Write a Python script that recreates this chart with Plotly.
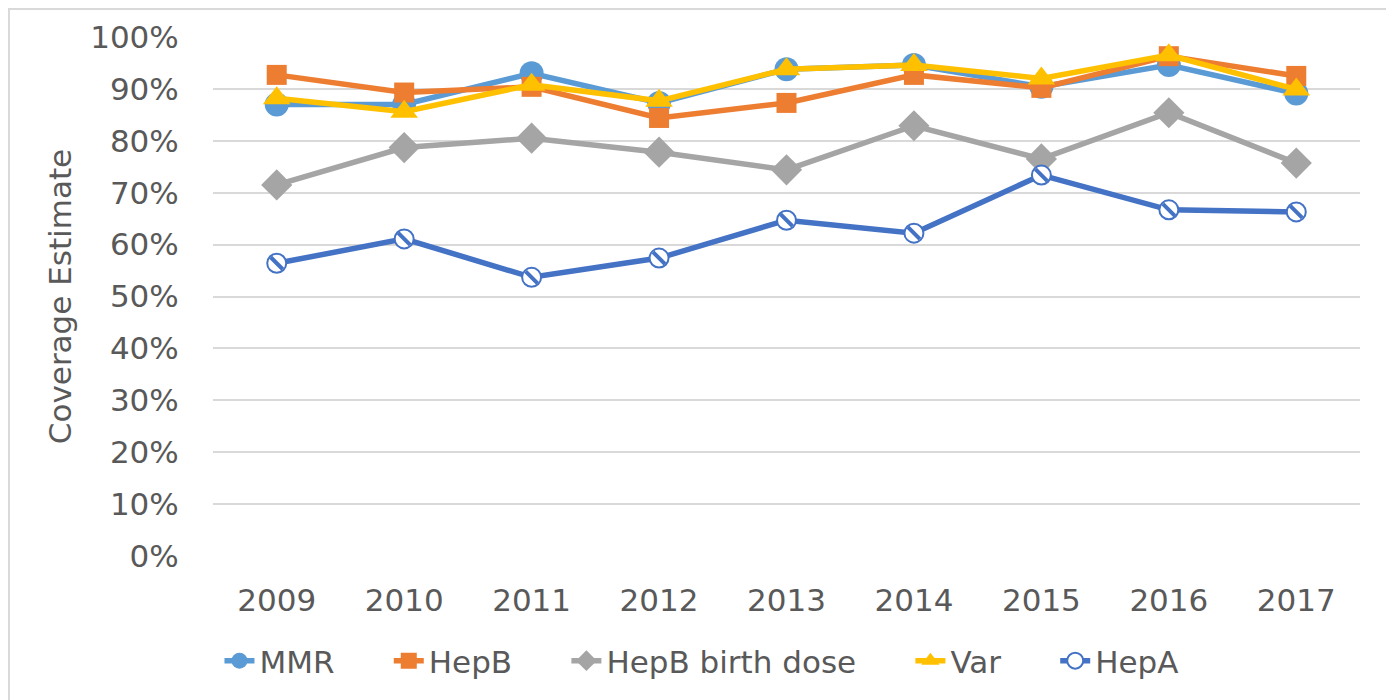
import plotly.graph_objects as go

years = ["2009", "2010", "2011", "2012", "2013", "2014", "2015", "2016", "2017"]
mmr = [0.870, 0.870, 0.930, 0.873, 0.938, 0.946, 0.904, 0.946, 0.891]
hepb = [0.927, 0.893, 0.904, 0.844, 0.873, 0.927, 0.902, 0.963, 0.925]
hepb_birth = [0.715, 0.787, 0.805, 0.778, 0.744, 0.829, 0.765, 0.854, 0.757]
var = [0.882, 0.856, 0.908, 0.877, 0.938, 0.946, 0.920, 0.965, 0.899]
hepa = [0.564, 0.611, 0.537, 0.574, 0.647, 0.622, 0.734, 0.667, 0.663]
series_names = ["MMR", "HepB", "HepB birth dose", "Var", "HepA"]

FONT = "DejaVu Sans"
TXT = "#595959"
FS = 31
PAD = "\u00a0" * 5

fig = go.Figure()
fig.add_trace(go.Scatter(x=years, y=mmr, name=series_names[0] + PAD, mode="lines+markers",
                         line=dict(color="#5B9BD5", width=5.5),
                         marker=dict(symbol="circle", size=24, color="#5B9BD5")))
fig.add_trace(go.Scatter(x=years, y=hepb, name=series_names[1] + PAD, mode="lines+markers",
                         line=dict(color="#ED7D31", width=5.5),
                         marker=dict(symbol="square", size=20, color="#ED7D31")))
fig.add_trace(go.Scatter(x=years, y=hepb_birth, name=series_names[2] + PAD, mode="lines+markers",
                         line=dict(color="#A5A5A5", width=5.5),
                         marker=dict(symbol="diamond", size=24, color="#A5A5A5")))
fig.add_trace(go.Scatter(x=years, y=var, name=series_names[3] + PAD, mode="lines+markers",
                         line=dict(color="#FFC000", width=5.5),
                         marker=dict(symbol="triangle-up", size=24, color="#FFC000")))
fig.add_trace(go.Scatter(x=years, y=hepa, name=series_names[4], mode="lines+markers", legendgroup="hepa",
                         line=dict(color="#4472C4", width=5.5),
                         marker=dict(symbol="circle", size=19, color="white",
                                     line=dict(color="#4472C4", width=2))))
fig.add_trace(go.Scatter(x=years, y=hepa, name=series_names[4], mode="markers", legendgroup="hepa",
                         showlegend=False, hoverinfo="skip",
                         marker=dict(symbol="line-nw", size=12,
                                     line=dict(color="#4472C4", width=4))))

fig.update_layout(
    width=1386, height=692,
    margin=dict(l=205, r=34, t=29, b=144, autoexpand=False),
    paper_bgcolor="white", plot_bgcolor="white",
    font=dict(family=FONT, size=FS, color=TXT),
    showlegend=True,
    legend=dict(orientation="h", x=0.4263, xanchor="center", y=-0.2023, yanchor="middle",
                font=dict(family=FONT, size=FS, color=TXT), traceorder="normal"),
    xaxis=dict(type="category", range=[-0.5, 8.5], showgrid=False, zeroline=False,
               showline=False, ticks="outside", ticklen=17, tickcolor="rgba(0,0,0,0)",
               automargin=False,
               tickfont=dict(family=FONT, size=FS, color=TXT)),
    yaxis=dict(range=[0, 1.0], dtick=0.1, tickformat=".0%", showgrid=True,
               gridcolor="#D9D9D9", gridwidth=2, zeroline=False, showline=False,
               ticks="outside", ticklen=27, tickcolor="rgba(0,0,0,0)",
               automargin=False,
               tickfont=dict(family=FONT, size=FS, color=TXT),
               title=dict(text="Coverage Estimate", standoff=9,
                          font=dict(family=FONT, size=FS, color=TXT))),
    shapes=[dict(type="rect", xref="paper", yref="paper",
                 x0=-0.1779, x1=1.0253, y0=-0.4, y1=1.054,
                 line=dict(color="#D9D9D9", width=2), layer="below")],
)

fig.write_html("out.html")
